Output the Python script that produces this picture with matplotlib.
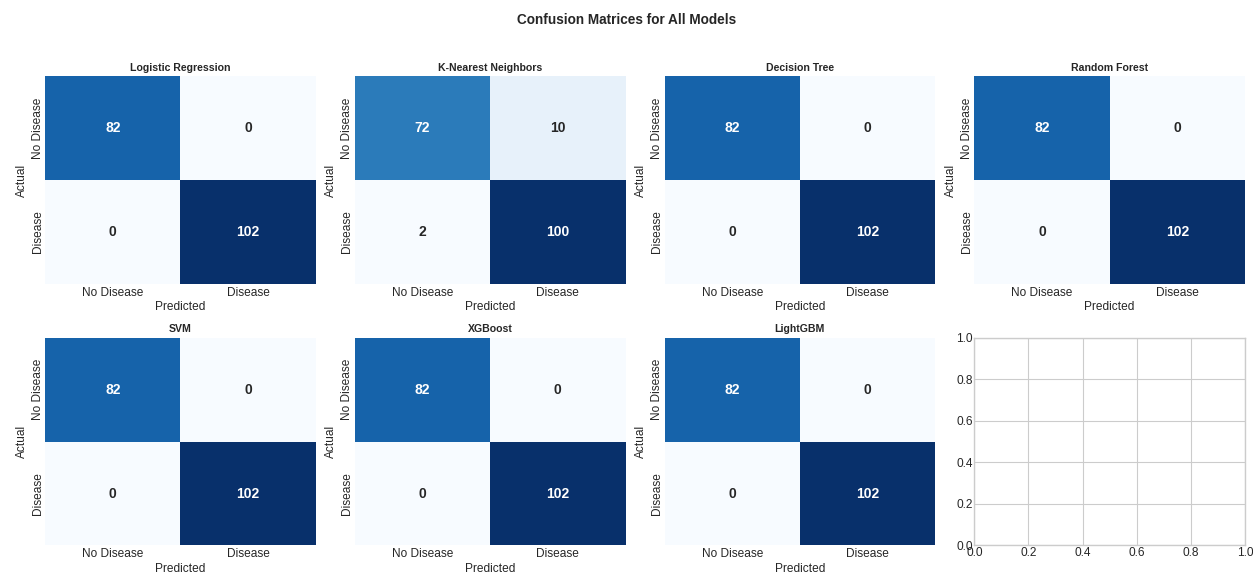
import matplotlib.pyplot as plt
import seaborn as sns
import numpy as np

plt.style.use('seaborn-v0_8-whitegrid')
plt.rcParams['font.family'] = ['Liberation Sans', 'DejaVu Sans']

# 各模型混淆矩阵 [[TN, FP], [FN, TP]]
model_names = ['Logistic Regression', 'K-Nearest Neighbors', 'Decision Tree',
               'Random Forest', 'SVM', 'XGBoost', 'LightGBM']
cm_lr = [[82, 0], [0, 102]]
cm_knn = [[72, 10], [2, 100]]
cm_dt = [[82, 0], [0, 102]]
cm_rf = [[82, 0], [0, 102]]
cm_svm = [[82, 0], [0, 102]]
cm_xgb = [[82, 0], [0, 102]]
cm_lgbm = [[82, 0], [0, 102]]
class_labels = ['No Disease', 'Disease']

matrices = [cm_lr, cm_knn, cm_dt, cm_rf, cm_svm, cm_xgb, cm_lgbm]

fig, axes = plt.subplots(2, 4, figsize=(12.53, 5.73), dpi=100)
axes = axes.ravel()

for i, (name, cm) in enumerate(zip(model_names, matrices)):
    ax = axes[i]
    sns.heatmap(np.array(cm), annot=True, fmt='d', cmap='Blues', cbar=False,
                xticklabels=class_labels, yticklabels=class_labels, ax=ax,
                annot_kws={'fontsize': 10, 'fontweight': 'bold'})
    ax.set_title(name, fontsize=7.6, fontweight='bold', pad=4)
    ax.set_xlabel('Predicted', fontsize=8.6, labelpad=2)
    ax.set_ylabel('Actual', fontsize=8.6, labelpad=3)
    ax.tick_params(axis='x', labelsize=8.6, pad=2)
    ax.tick_params(axis='y', labelsize=8.6, pad=1)

# 多余的子图保持空白
for ax in axes[len(matrices):]:
    ax.tick_params(labelsize=8.6, pad=1)

fig.suptitle('Confusion Matrices for All Models', fontsize=9.8, fontweight='bold', y=0.978)
plt.subplots_adjust(left=0.036, right=0.9936, top=0.867, bottom=0.048,
                    wspace=0.144, hspace=0.26)
plt.savefig('out.png', dpi=100)
